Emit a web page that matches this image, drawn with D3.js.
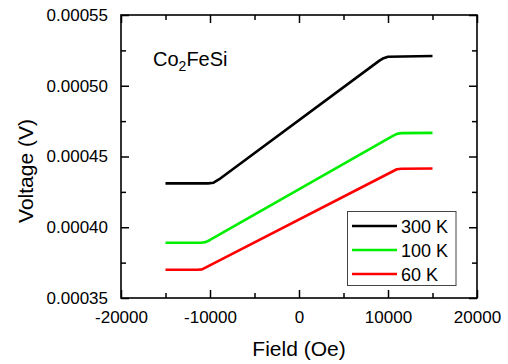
<!DOCTYPE html>
<html><head><meta charset="utf-8">
<script src="https://cdn.jsdelivr.net/npm/d3@7"></script>
<style>
html,body{margin:0;padding:0;background:#fff;}
text{font-family:Arial,"Liberation Sans",Helvetica,sans-serif;fill:#000;}
</style></head>
<body><svg id="c" width="508" height="364"></svg>
<script>
const seriesNames = ["300 K", "100 K", "60 K"];
const seriesColors = ["#000000", "#00ee00", "#ff0000"];
const field300 = [-15000, -10200, -9600, -9000, 9000, 9500, 10000, 15000];
const volt300  = [0.000431, 0.000431, 0.0004315, 0.0004338, 0.0005176, 0.0005195, 0.0005205, 0.000521];
const field100 = [-15000, -11000, -10500, -10000, 10500, 11000, 11500, 15000];
const volt100  = [0.000389, 0.000389, 0.0003895, 0.000391, 0.0004644, 0.000466, 0.0004665, 0.0004667];
const field60  = [-15000, -11400, -10900, -10400, 10500, 11000, 11500, 15000];
const volt60   = [0.00037, 0.00037, 0.0003702, 0.0003718, 0.0004394, 0.000441, 0.0004413, 0.0004415];
const xTicks = [-20000, -10000, 0, 10000, 20000];
const xMinor = [-15000, -5000, 5000, 15000];
const yTicks = [0.00035, 0.0004, 0.00045, 0.0005, 0.00055];
const yMinor = [0.000375, 0.000425, 0.000475, 0.000525];
const xTitle = "Field (Oe)";
const yTitle = "Voltage (V)";

const svg = d3.select("#c");
const L = 121, R = 477, T = 15, B = 298;
const x = d3.scaleLinear().domain([-20000, 20000]).range([L, R]);
const y = d3.scaleLinear().domain([0.00035, 0.00055]).range([B, T]);

const data = [
  field300.map((f,i)=>[f, volt300[i]]),
  field100.map((f,i)=>[f, volt100[i]]),
  field60.map((f,i)=>[f, volt60[i]])
];
const line = d3.line().x(d=>x(d[0])).y(d=>y(d[1])).curve(d3.curveLinear);
data.forEach((d,i)=>{
  svg.append("path").attr("d", line(d)).attr("fill","none")
    .attr("stroke", seriesColors[i]).attr("stroke-width", 2.6).attr("stroke-linejoin","round");
});

// frame
svg.append("rect").attr("x",L).attr("y",T).attr("width",R-L).attr("height",B-T)
  .attr("fill","none").attr("stroke","#000").attr("stroke-width",1.6);

const fmtY = d3.format(".5f");
const fmtX = d => String(d);
const gB = svg.append("g").attr("transform",`translate(0,${B})`)
  .call(d3.axisBottom(x).tickValues(xTicks).tickSizeInner(-8).tickSizeOuter(0).tickPadding(13).tickFormat(fmtX));
svg.append("g").attr("transform",`translate(0,${T})`)
  .call(d3.axisTop(x).tickValues(xTicks).tickSizeInner(-8).tickSizeOuter(0).tickFormat(""));
svg.append("g").attr("transform",`translate(${L},0)`)
  .call(d3.axisLeft(y).tickValues(yTicks).tickSizeInner(-8).tickSizeOuter(0).tickPadding(13).tickFormat(fmtY));
svg.append("g").attr("transform",`translate(${R},0)`)
  .call(d3.axisRight(y).tickValues(yTicks).tickSizeInner(-8).tickSizeOuter(0).tickFormat(""));
svg.append("g").attr("transform",`translate(0,${B})`).call(d3.axisBottom(x).tickValues(xMinor).tickSizeInner(-5).tickSizeOuter(0).tickFormat(""));
svg.append("g").attr("transform",`translate(0,${T})`).call(d3.axisTop(x).tickValues(xMinor).tickSizeInner(-5).tickSizeOuter(0).tickFormat(""));
svg.append("g").attr("transform",`translate(${L},0)`).call(d3.axisLeft(y).tickValues(yMinor).tickSizeInner(-5).tickSizeOuter(0).tickFormat(""));
svg.append("g").attr("transform",`translate(${R},0)`).call(d3.axisRight(y).tickValues(yMinor).tickSizeInner(-5).tickSizeOuter(0).tickFormat(""));
svg.selectAll(".domain").remove();
svg.selectAll(".tick line").attr("stroke","#000").attr("stroke-width",1.5);
svg.selectAll(".tick text").style("font-size","17px").attr("fill","#000")
  .style("font-family","Arial, 'Liberation Sans', sans-serif");

svg.append("text").attr("x",(L+R)/2).attr("y",356).attr("text-anchor","middle")
  .style("font-size","21px").text(xTitle);
svg.append("text").attr("transform","translate(33,171) rotate(-90)").attr("text-anchor","middle")
  .style("font-size","21px").text(yTitle);

const ann = svg.append("text").attr("x",153).attr("y",66).style("font-size","20px");
ann.append("tspan").text("Co");
ann.append("tspan").attr("dy",5).style("font-size","14px").text("2");
ann.append("tspan").attr("dy",-5).text("FeSi");

const lg = svg.append("g");
lg.append("rect").attr("x",347.5).attr("y",211.5).attr("width",108.5).attr("height",74)
  .attr("fill","#fff").attr("stroke","#444").attr("stroke-width",1);
const rowsY = [226, 250, 274];
seriesNames.forEach((n,i)=>{
  lg.append("line").attr("x1",352).attr("x2",397).attr("y1",rowsY[i]).attr("y2",rowsY[i])
    .attr("stroke",seriesColors[i]).attr("stroke-width",2.6);
  lg.append("text").attr("x",401).attr("y",rowsY[i]+6.5).style("font-size","18px").text(n);
});
</script></body></html>
